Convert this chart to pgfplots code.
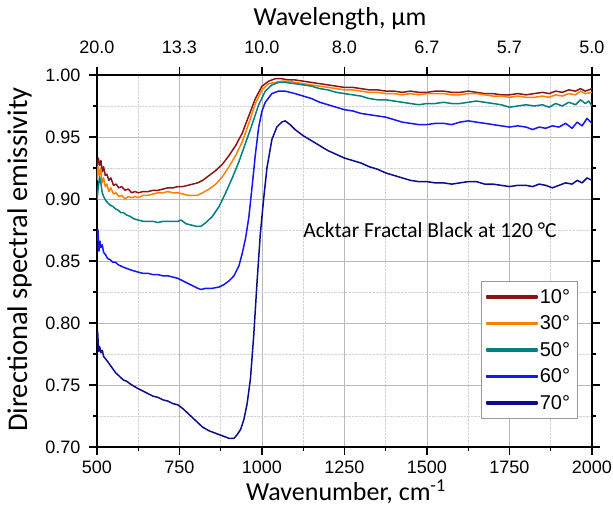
\documentclass[border=0pt]{standalone}
\usepackage{fontspec}
\setmainfont{Carlito}
\newfontfamily\arialfont{Liberation Sans}
\usepackage{pgfplots}
\pgfplotsset{compat=1.18}
\definecolor{cten}{RGB}{140,22,22}
\definecolor{cthirty}{RGB}{255,128,0}
\definecolor{cfifty}{RGB}{0,128,128}
\definecolor{csixty}{RGB}{20,20,255}
\definecolor{cseventy}{RGB}{12,12,140}
\begin{document}
\begin{tikzpicture}
\begin{axis}[
  scale only axis, width=495pt, height=372pt,
  xmin=500, xmax=2000, ymin=0.70, ymax=1.00,
  xtick={500,750,...,2000}, ytick={0.70,0.75,...,1.001},
  minor x tick num=1, minor y tick num=1,
  xtick pos=left, ytick pos=both,
  tick align=outside, major tick length=8pt, minor tick length=4pt,
  axis line style={line width=1.2pt},
  every tick/.style={black, line width=1.1pt},
  grid=both,
  major grid style={solid, gray!55, line width=0.8pt},
  minor grid style={densely dotted, gray!35, line width=0.6pt},
  ticklabel style={font=\fontsize{18}{20}\arialfont},
  xticklabel style={inner sep=1pt, yshift=-5pt},
  yticklabel style={xshift=-5pt, /pgf/number format/fixed, /pgf/number format/fixed zerofill, /pgf/number format/precision=2},
  /pgf/number format/assume math mode=true,
  /pgf/number format/1000 sep={},
  xlabel={Wavenumber, cm\textsuperscript{-1}},
  xlabel style={font=\fontsize{26}{30}\selectfont, inner sep=1pt, at={(axis description cs:0.503,-0.143)}, anchor=base},
  ylabel={Directional spectral emissivity},
  ylabel style={font=\fontsize{28.5}{32}\selectfont, at={(axis description cs:-0.1414,0.504)}, anchor=base},
  legend style={at={(axis description cs:0.776,0.446)}, anchor=north west, draw=gray!80, fill=white, font=\fontsize{20}{24}\arialfont, row sep=7pt, inner xsep=5pt, inner ysep=6pt},
  legend cell align=left,
  legend image code/.code={\fill (0pt,-0.9pt) rectangle (50pt,0.9pt);},
  every axis plot/.append style={line width=1.5pt, line join=round},
]
% 10 deg
\addplot[cten] coordinates {
(500,0.926) (504,0.933) (508,0.927) (512,0.931) (516,0.922) (520,0.926) (525,0.919) (530,0.920) (536,0.915) (542,0.917) (550,0.911) (558,0.912) (566,0.909) (575,0.910) (585,0.907) (595,0.908) (605,0.905) (615,0.906) (625,0.905) (640,0.906) (655,0.906) (670,0.907) (685,0.907) (700,0.908) (715,0.909) (730,0.909) (745,0.910) (760,0.910) (775,0.911) (790,0.912) (805,0.913) (820,0.915) (840,0.919) (860,0.923) (880,0.928) (900,0.935) (920,0.943) (940,0.953) (960,0.967) (980,0.981) (1000,0.991) (1020,0.995) (1040,0.997) (1060,0.997) (1080,0.996) (1100,0.996) (1125,0.995) (1150,0.994) (1175,0.993) (1200,0.992) (1225,0.991) (1250,0.990) (1275,0.990) (1300,0.989) (1325,0.988) (1350,0.988) (1375,0.987) (1400,0.987) (1425,0.986) (1450,0.987) (1475,0.986) (1500,0.986) (1525,0.987) (1550,0.987) (1575,0.986) (1600,0.986) (1625,0.987) (1650,0.986) (1675,0.985) (1700,0.985) (1725,0.984) (1750,0.984) (1775,0.985) (1800,0.984) (1825,0.985) (1850,0.986) (1870,0.985) (1890,0.987) (1910,0.986) (1930,0.988) (1950,0.987) (1965,0.989) (1980,0.987) (2000,0.989)
};
\addlegendentry{10°}
% 30 deg
\addplot[cthirty] coordinates {
(500,0.915) (503,0.926) (507,0.919) (511,0.925) (515,0.913) (520,0.917) (525,0.910) (530,0.912) (536,0.906) (542,0.909) (550,0.904) (558,0.905) (566,0.902) (575,0.903) (585,0.900) (595,0.902) (605,0.901) (615,0.902) (625,0.901) (640,0.903) (655,0.903) (670,0.904) (685,0.905) (700,0.905) (715,0.906) (730,0.905) (745,0.905) (760,0.904) (775,0.903) (790,0.903) (805,0.903) (820,0.905) (840,0.908) (860,0.912) (880,0.918) (900,0.926) (920,0.935) (940,0.946) (960,0.961) (980,0.977) (1000,0.988) (1020,0.993) (1040,0.994) (1060,0.995) (1080,0.995) (1100,0.994) (1125,0.993) (1150,0.992) (1175,0.991) (1200,0.990) (1225,0.989) (1250,0.988) (1275,0.988) (1300,0.987) (1325,0.986) (1350,0.986) (1375,0.985) (1400,0.985) (1425,0.984) (1450,0.985) (1475,0.984) (1500,0.985) (1525,0.985) (1550,0.985) (1575,0.984) (1600,0.984) (1625,0.985) (1650,0.985) (1675,0.984) (1700,0.983) (1725,0.983) (1750,0.982) (1775,0.983) (1800,0.982) (1825,0.982) (1850,0.983) (1870,0.982) (1890,0.984) (1910,0.983) (1930,0.985) (1950,0.984) (1965,0.987) (1980,0.985) (2000,0.986)
};
\addlegendentry{30°}
% 50 deg
\addplot[cfifty] coordinates {
(500,0.899) (504,0.910) (508,0.918) (512,0.912) (516,0.905) (520,0.902) (526,0.899) (532,0.897) (540,0.895) (548,0.894) (556,0.892) (564,0.891) (572,0.889) (580,0.889) (590,0.887) (600,0.886) (612,0.884) (625,0.883) (640,0.882) (655,0.882) (670,0.882) (685,0.881) (700,0.882) (715,0.882) (730,0.882) (745,0.882) (755,0.883) (770,0.880) (785,0.879) (800,0.878) (815,0.878) (830,0.881) (850,0.886) (870,0.894) (890,0.905) (910,0.917) (930,0.930) (950,0.945) (970,0.960) (990,0.976) (1010,0.987) (1030,0.992) (1050,0.994) (1070,0.994) (1100,0.993) (1125,0.992) (1150,0.991) (1175,0.989) (1200,0.988) (1225,0.986) (1250,0.985) (1275,0.984) (1300,0.983) (1325,0.981) (1350,0.980) (1375,0.980) (1400,0.979) (1425,0.978) (1450,0.977) (1475,0.976) (1500,0.977) (1525,0.977) (1550,0.978) (1575,0.977) (1600,0.977) (1625,0.978) (1650,0.979) (1675,0.978) (1700,0.977) (1725,0.976) (1750,0.974) (1775,0.975) (1800,0.976) (1825,0.975) (1850,0.976) (1870,0.974) (1890,0.977) (1910,0.975) (1930,0.978) (1950,0.976) (1965,0.980) (1980,0.977) (1990,0.979) (2000,0.975)
};
\addlegendentry{50°}
% 60 deg
\addplot[csixty] coordinates {
(500,0.866) (503,0.875) (506,0.858) (509,0.866) (512,0.861) (516,0.863) (520,0.857) (526,0.855) (532,0.852) (540,0.851) (548,0.849) (556,0.849) (564,0.847) (572,0.846) (580,0.845) (590,0.844) (600,0.843) (612,0.842) (625,0.841) (640,0.840) (655,0.840) (670,0.839) (685,0.839) (700,0.838) (715,0.838) (730,0.837) (745,0.836) (760,0.834) (775,0.832) (790,0.830) (805,0.828) (815,0.827) (830,0.828) (850,0.828) (870,0.829) (885,0.831) (900,0.834) (915,0.838) (930,0.846) (940,0.856) (950,0.868) (960,0.885) (970,0.910) (980,0.936) (990,0.958) (1000,0.971) (1010,0.978) (1030,0.985) (1050,0.987) (1070,0.987) (1100,0.985) (1125,0.983) (1150,0.981) (1175,0.978) (1200,0.976) (1225,0.974) (1250,0.972) (1275,0.971) (1300,0.969) (1325,0.968) (1350,0.967) (1375,0.966) (1400,0.964) (1425,0.962) (1450,0.961) (1475,0.960) (1500,0.960) (1525,0.961) (1550,0.961) (1575,0.960) (1600,0.962) (1625,0.963) (1650,0.962) (1675,0.961) (1700,0.960) (1725,0.959) (1750,0.958) (1775,0.959) (1800,0.958) (1820,0.956) (1840,0.958) (1860,0.957) (1880,0.959) (1900,0.958) (1920,0.961) (1940,0.957) (1955,0.962) (1970,0.959) (1985,0.965) (2000,0.961)
};
\addlegendentry{60°}
% 70 deg
\addplot[cseventy] coordinates {
(500,0.783) (502,0.793) (505,0.777) (508,0.781) (512,0.776) (516,0.778) (520,0.773) (526,0.771) (532,0.769) (540,0.766) (548,0.763) (556,0.760) (564,0.758) (572,0.756) (580,0.754) (590,0.753) (600,0.751) (612,0.749) (625,0.747) (640,0.745) (655,0.743) (670,0.741) (685,0.740) (700,0.738) (715,0.737) (730,0.735) (745,0.734) (760,0.731) (780,0.726) (800,0.721) (820,0.716) (840,0.713) (860,0.711) (880,0.709) (900,0.707) (915,0.707) (925,0.710) (935,0.714) (945,0.722) (955,0.735) (965,0.755) (975,0.790) (985,0.833) (995,0.872) (1005,0.900) (1015,0.925) (1030,0.948) (1045,0.958) (1060,0.962) (1070,0.963) (1085,0.960) (1100,0.956) (1125,0.951) (1150,0.947) (1175,0.943) (1200,0.939) (1225,0.936) (1250,0.933) (1275,0.931) (1300,0.929) (1325,0.926) (1350,0.924) (1375,0.921) (1400,0.919) (1425,0.917) (1450,0.915) (1475,0.914) (1500,0.914) (1525,0.913) (1550,0.913) (1575,0.912) (1600,0.913) (1625,0.914) (1650,0.914) (1675,0.912) (1700,0.912) (1725,0.911) (1750,0.910) (1775,0.911) (1800,0.911) (1820,0.910) (1840,0.912) (1860,0.911) (1880,0.909) (1900,0.911) (1920,0.913) (1940,0.912) (1955,0.915) (1970,0.913) (1985,0.917) (2000,0.915)
};
\addlegendentry{70°}
\node[anchor=base, font=\fontsize{21.5}{24}\selectfont] at (axis cs:1509,0.8686) {Acktar Fractal Black at 120 °C};
\end{axis}
\begin{axis}[
  scale only axis, width=495pt, height=372pt,
  xmin=500, xmax=2000, ymin=0.70, ymax=1.00,
  axis x line*=top, axis y line=none,
  xtick={500,750,...,2000},
  xticklabels={20.0,13.3,10.0,8.0,6.7,5.7,5.0},
  tick align=outside, major tick length=8pt,
  axis line style={line width=1.2pt},
  every tick/.style={black, line width=1.1pt},
  ticklabel style={font=\fontsize{18}{20}\arialfont},
  xticklabel style={yshift=10pt},
  xlabel={Wavelength, µm},
  xlabel style={font=\fontsize{26}{30}\selectfont, at={(axis description cs:0.491,1.134)}, anchor=base},
]
\end{axis}
\path (current axis.south west) ++(-97pt,-68pt) (current axis.north east) ++(21pt,75pt);
\end{tikzpicture}
\end{document}
